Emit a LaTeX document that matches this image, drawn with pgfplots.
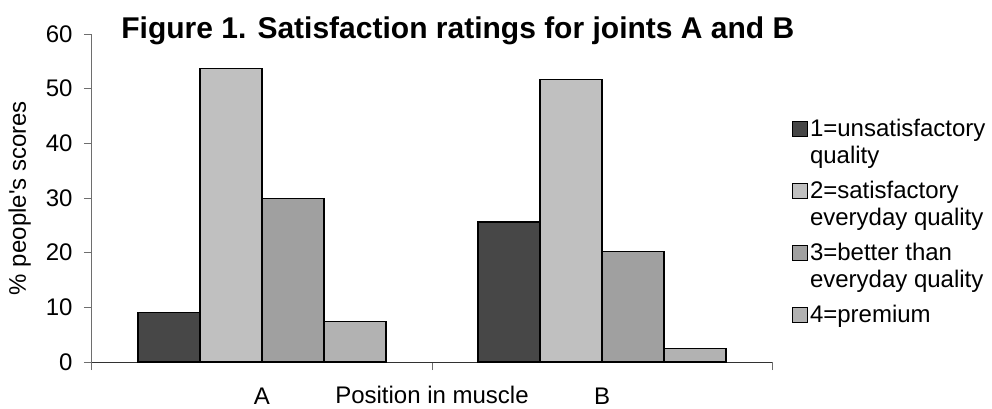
\documentclass[border=0pt]{standalone}
\usepackage{pgfplots}
\pgfplotsset{compat=1.18}
\usepackage{fontspec}
\setmainfont{Liberation Sans}
\definecolor{c1}{RGB}{71,71,71}
\definecolor{c2}{RGB}{192,192,192}
\definecolor{c3}{RGB}{160,160,160}
\definecolor{c4}{RGB}{178,178,178}
\definecolor{axc}{RGB}{110,110,110}
\definecolor{axx}{RGB}{50,50,50}
\pgfplotsset{mylegend/.style={legend image code/.code={\draw[##1,line width=1pt] (0pt,0pt) rectangle (15pt,15pt);}}}
\begin{document}
\begin{tikzpicture}
\begin{axis}[
  at={(0,0)}, anchor=south west,
  scale only axis, width=680pt, height=328pt,
  ybar=0pt, bar width=62pt,
  xmin=-0.5, xmax=1.5, ymin=0, ymax=60,
  ytick={0,10,...,60},
  xtick={-0.5,0.5,1.5}, xticklabels={},
  extra x ticks={0,1}, extra x tick labels={A,B},
  extra x tick style={major tick length=0pt, xticklabel style={anchor=base, yshift=-42pt}},
  axis x line*=bottom, axis y line*=left,
  axis line style={-, line width=1pt},
  x axis line style={axx},
  y axis line style={axc},
  tick style={axc, line width=1pt},
  tick align=outside, major tick length=8pt,
  /pgf/number format/assume math mode=true,
  ticklabel style={font=\fontsize{24}{28}\selectfont},
  yticklabel style={xshift=-8pt},
  title={Figure 1. Satisfaction ratings for joints A and B},
  title style={at={([yshift=-10pt]axis description cs:0.538,1)}, anchor=base, font=\fontsize{30}{32}\selectfont\bfseries},
  xlabel={Position in muscle},
  xlabel style={at={([yshift=-41pt]axis description cs:0.5,0)}, anchor=base, font=\fontsize{24}{28}\selectfont},
  ylabel={\% people\textquotesingle s scores},
  ylabel style={at={([xshift=-66pt]axis description cs:0,0.5)}, anchor=base, rotate=0, font=\fontsize{24}{28}\selectfont},
  legend style={at={(1.0294,0.744)}, anchor=north west, draw=none, fill=none, inner sep=0pt, outer sep=0pt,
    row sep=0pt, column sep=2pt, font=\fontsize{24}{27}\selectfont, cells={anchor=base west},
    nodes={inner sep=0pt, text height=18.9pt, text depth=8.1pt}},
]
\addplot[fill=c1, draw=black, line width=1.2pt, mylegend] coordinates {(0,9.1) (1,25.6)};
\addlegendentry{1=unsatisfactory}
\addlegendimage{empty legend}
\addlegendentry[text depth=16.1pt]{quality}
\addplot[fill=c2, draw=black, line width=1.2pt, mylegend] coordinates {(0,53.7) (1,51.7)};
\addlegendentry{2=satisfactory}
\addlegendimage{empty legend}
\addlegendentry[text depth=16.1pt]{everyday quality}
\addplot[fill=c3, draw=black, line width=1.2pt, mylegend] coordinates {(0,29.9) (1,20.2)};
\addlegendentry{3=better than}
\addlegendimage{empty legend}
\addlegendentry[text depth=16.1pt]{everyday quality}
\addplot[fill=c4, draw=black, line width=1.2pt, mylegend] coordinates {(0,7.4) (1,2.5)};
\addlegendentry{4=premium}
\end{axis}
\pgfresetboundingbox
\path[use as bounding box] (-92pt,-46pt) rectangle (900pt,362pt);
\end{tikzpicture}
\end{document}
